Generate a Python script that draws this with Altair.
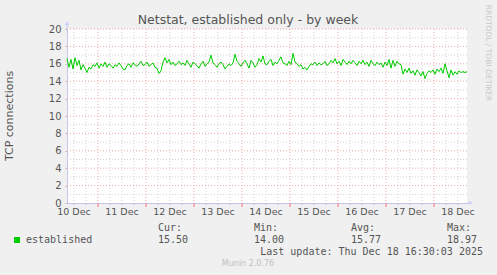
import altair as alt
import pandas as pd

# ---- data (hourly samples) ----
values = [
    16.6, 15.6, 16.5, 15.4, 16.7, 15.8, 16.4, 15.3, 15.9, 15.5, 15.0, 15.6,
    15.4, 15.9, 15.7, 16.1, 15.5, 16.0, 15.7, 16.2, 15.6, 16.0, 15.8, 15.5,
    15.9, 15.7, 16.1, 15.8, 15.4, 15.3, 15.8, 16.0, 15.6, 16.1, 15.9, 15.7,
    16.0, 16.3, 15.8, 15.9, 16.2, 15.7, 15.9, 16.1, 15.6, 15.5, 14.9, 15.2,
    16.2, 16.7, 16.1, 16.5, 15.9, 16.2, 15.8, 16.0, 16.3, 15.9, 16.1, 15.8,
    16.4, 16.0, 15.6, 16.2, 16.0, 15.8, 15.5, 16.0, 16.3, 15.7, 16.0, 16.2,
    17.0, 16.1, 15.9, 15.6, 16.0, 16.2, 15.9, 15.4, 15.7, 16.0, 15.8, 16.1,
    17.1, 16.3, 16.0, 15.7, 16.1, 16.4, 16.0, 15.5, 16.4, 16.1, 15.6, 15.9,
    16.6, 16.2, 16.9, 16.0, 15.9, 16.3, 16.5, 15.8, 16.2, 16.0, 16.4, 16.8,
    16.1, 16.0, 15.8, 16.3, 15.9, 17.2, 16.2, 16.0, 15.7, 15.9, 15.4, 15.6,
    15.3, 15.7, 16.0, 15.9, 16.2, 15.8, 16.1, 15.9, 16.0, 16.3, 15.8, 16.0,
    16.4, 16.1, 16.6, 16.0, 16.3, 15.8, 16.5, 16.2, 15.9, 16.3, 16.0, 16.4,
    16.1, 15.8, 16.3, 16.0, 16.4, 15.9, 16.2, 15.7, 16.4, 16.0, 15.8, 16.2,
    15.9, 16.1, 15.6, 16.2, 15.8, 16.5, 15.5, 16.4, 15.7, 16.3, 16.0, 15.9,
    14.8, 15.4, 15.0, 15.5, 14.9, 15.2, 14.7, 15.3, 15.0, 14.6, 15.1, 14.3,
    14.9, 15.2, 15.0, 15.3, 14.8, 15.4, 15.1, 15.5, 14.9, 16.0, 15.2, 14.4,
    15.3, 14.7, 15.1, 14.8, 15.2, 15.0, 15.1, 15.0, 15.1,
]
start_time = "2025-12-10 08:30"
end_time = "2025-12-18 16:30"
day_labels = ["10 Dec", "11 Dec", "12 Dec", "13 Dec", "14 Dec", "15 Dec", "16 Dec", "17 Dec", "18 Dec"]
y_major = [2, 4, 6, 8, 10, 12, 14, 16, 18, 20]
y_minor = [1, 3, 5, 7, 9, 11, 13, 15, 17, 19]
legend_name = "established"
stat_heads = ["Cur:", "Min:", "Avg:", "Max:"]
stat_values = ["15.50", "14.00", "15.77", "18.97"]
title_text = "Netstat, established only - by week"
y_title = "TCP connections"
last_update = "Last update: Thu Dec 18 16:30:03 2025"
footer = "Munin 2.0.76"
side_text = "RRDTOOL / TOBI OETIKER"

def iso(ts):
    return pd.Series(ts).dt.strftime("%Y-%m-%dT%H:%M:%SZ").tolist()

times = pd.date_range(start_time, periods=len(values), freq="h")
df = pd.DataFrame({"t": iso(times), "v": values})

six_h = pd.date_range("2025-12-10 12:00", "2025-12-18 12:00", freq="6h")
minor_x = pd.DataFrame({"t": iso(six_h[six_h.hour != 0])})
major_x = pd.DataFrame({"t": iso(six_h[six_h.hour == 0])})
noons = pd.date_range("2025-12-10 12:00", periods=len(day_labels), freq="D")
lab_x = pd.DataFrame({"t": iso(noons), "lab": day_labels})
ymaj = pd.DataFrame({"v": y_major})
ymin = pd.DataFrame({"v": y_minor})

xdom = [pd.Timestamp(start_time).strftime("%Y-%m-%dT%H:%M:%SZ"),
        pd.Timestamp(end_time).strftime("%Y-%m-%dT%H:%M:%SZ")]
xs = alt.Scale(type="utc", domain=xdom, nice=False)
ys = alt.Scale(domain=[0, 20], nice=False, zero=True)

AXIS_BLUE = "#c4c4ee"
GRID_MINOR = "#d2d2d2"
GRID_MAJOR = "#f2a8a8"
TXT = "#555555"
FONT = "DejaVu Sans"
MONO = "DejaVu Sans Mono"

X = lambda: alt.X("t:T", scale=xs, axis=alt.Axis(labels=False, ticks=False, grid=False, title=None,
                                               domainColor=AXIS_BLUE, domainWidth=1))
Y = lambda f="v": alt.Y(f"{f}:Q", scale=ys,
                        axis=alt.Axis(values=y_major + [0], grid=False, title=None, labelFont=FONT,
                                      labelFontSize=10, labelColor=TXT, tickSize=2, tickColor="#bbbbbb",
                                      labelPadding=4, domainColor=AXIS_BLUE))

gx_minor = alt.Chart(minor_x).mark_rule(color=GRID_MINOR, strokeDash=[1, 2], strokeWidth=1).encode(x=X())
gx_major = alt.Chart(major_x).mark_rule(color=GRID_MAJOR, strokeDash=[1, 2], strokeWidth=1).encode(x=X())
gy_minor = alt.Chart(ymin).mark_rule(color=GRID_MINOR, strokeDash=[1, 2], strokeWidth=1).encode(y=Y())
gy_major = alt.Chart(ymaj).mark_rule(color=GRID_MAJOR, strokeDash=[1, 2], strokeWidth=1).encode(y=Y())

tick_minor = alt.Chart(minor_x).mark_rule(color="#bbbbbb").encode(x=X(), y=alt.value(174), y2=alt.value(176))
tick_major = alt.Chart(major_x).mark_rule(color="#ee7777").encode(x=X(), y=alt.value(174), y2=alt.value(178))

line = alt.Chart(df).mark_line(color="#00cc00", strokeWidth=1, interpolate="linear").encode(x=X(), y=Y())

xlabels = alt.Chart(lab_x).mark_text(font=FONT, fontSize=9.5, color=TXT, baseline="middle", align="center").encode(
    x=X(), y=alt.value(183), text="lab:N")

one = pd.DataFrame({"k": [0]})

def txt(s, x, y, size=10, font=FONT, color=TXT, align="left", angle=0, baseline="middle"):
    m = alt.Chart(one).mark_text(font=font, fontSize=size, color=color, align=align,
                                 baseline=baseline, angle=angle)
    return m.encode(x=alt.value(x), y=alt.value(y), text=alt.value(s))

decor = [
    txt(title_text, 181, -5, size=12.5, align="center", baseline="alphabetic"),
    txt(y_title, -57, 87, size=11, align="center", angle=270),
    txt(side_text, 421, 24, size=7.5, color="#c8c8c8", align="center", angle=90),
    txt(legend_name, -41, 211, font=MONO),
    txt(last_update, 416, 223, font=MONO, align="right"),
    txt(footer, 181, 235, size=8, color="#c0c0c0", align="center"),
]
col_x = [91, 187, 284, 380]
for h, v, cx in zip(stat_heads, stat_values, col_x):
    decor.append(txt(h, cx, 199, font=MONO))
    decor.append(txt(v, cx, 210.5, font=MONO))

swatch = alt.Chart(one).mark_square(color="#00cc00", size=36, opacity=1, filled=True).encode(
    x=alt.value(-50), y=alt.value(211))

ext_y = alt.Chart(one).mark_rule(color=AXIS_BLUE).encode(x=alt.value(0), y=alt.value(-5), y2=alt.value(0))
ext_x = alt.Chart(one).mark_rule(color=AXIS_BLUE).encode(x=alt.value(400), x2=alt.value(403), y=alt.value(174))
arrow_up = alt.Chart(one).mark_point(shape="triangle-up", filled=True, color="#d0d0ff", size=22, opacity=1).encode(
    x=alt.value(0), y=alt.value(-6))
arrow_right = alt.Chart(one).mark_point(shape="triangle-right", filled=True, color="#d0d0ff", size=22, opacity=1).encode(
    x=alt.value(404), y=alt.value(174))

chart = alt.layer(
    gx_minor, gy_minor, gx_major, gy_major, line, tick_minor, tick_major, xlabels,
    ext_y, ext_x, arrow_up, arrow_right, swatch, *decor
).properties(
    width=400, height=174,
    autosize=alt.AutoSizeParams(type="none"),
    padding={"left": 67, "top": 29, "right": 30, "bottom": 72},
    background="#f0f0f0",
).configure_view(stroke=None, fill="white")

chart.save("out.html", embed_options={"renderer": "svg", "actions": False})
